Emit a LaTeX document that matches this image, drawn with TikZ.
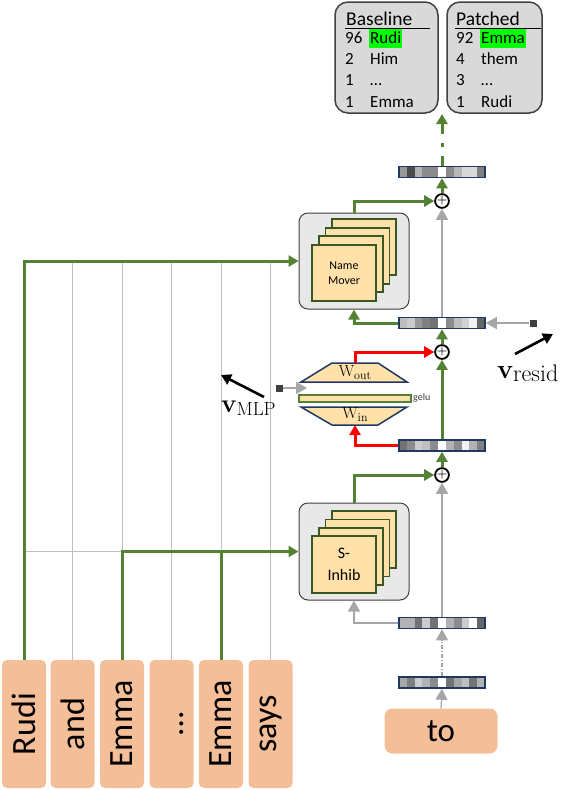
\documentclass[tikz,border=0pt]{standalone}
\usepackage{fontspec}
\setmainfont{Latin Modern Roman}
\newfontfamily\calib{Carlito}
\usetikzlibrary{arrows.meta}
\definecolor{grn}{HTML}{548235}
\definecolor{cardborder}{HTML}{385723}
\definecolor{cardfill}{HTML}{FFE1A9}
\definecolor{peach}{HTML}{F4BE98}
\definecolor{boxgray}{HTML}{E8E8E8}
\definecolor{resgray}{HTML}{D9D9D9}
\definecolor{navy}{HTML}{1F3864}
\definecolor{gridgray}{HTML}{BFBFBF}
\definecolor{arrgray}{HTML}{A6A6A6}
\definecolor{edgegray}{HTML}{404040}
\definecolor{hl}{HTML}{00FF00}
\tikzset{
  tok/.style={fill=peach, rounded corners=5pt, rotate=90, minimum width=128pt, minimum height=44pt, inner sep=0pt, font=\calib\fontsize{34}{34}\selectfont},
  tobox/.style={fill=peach, rounded corners=8pt, minimum width=113pt, minimum height=45pt, inner sep=0pt, font=\calib\fontsize{33}{33}\selectfont},
  attbox/.style={draw=edgegray, line width=1pt, fill=boxgray, rounded corners=9pt, minimum width=110pt, minimum height=96pt, inner sep=0pt},
  card/.style={draw=cardborder, line width=1.8pt, fill=cardfill, minimum width=64pt, minimum height=56pt, inner sep=0pt, align=center},
  resbox/.style={draw=edgegray, line width=1.5pt, fill=resgray, rounded corners=13pt, minimum height=111pt, inner sep=0pt},
  bar/.style={draw=navy, line width=1.5pt, minimum width=86pt, minimum height=11pt, inner sep=0pt},
  plus/.style={circle, draw=black, line width=1.8pt, fill=white, minimum size=13pt, inner sep=0pt, font=\bfseries\fontsize{12}{12}\selectfont},
  grnline/.style={draw=grn, line width=3pt, -{Triangle[length=10pt,width=11pt]}},
  redline/.style={draw=red, line width=3pt, -{Triangle[length=10pt,width=11pt]}},
  grayarr/.style={draw=arrgray, line width=1.2pt, -{Triangle[length=11pt,width=12pt]}},
  gridline/.style={draw=gridgray, line width=1pt},
  blkarr/.style={draw=black, line width=2.6pt, -{Triangle[length=10pt,width=11pt]}},
  restxt/.style={anchor=base west, inner sep=0pt, font=\calib\fontsize{17}{17}\selectfont},
  reshead/.style={anchor=base west, inner sep=0pt, font=\calib\fontsize{19.5}{19.5}\selectfont},
  hlbox/.style={anchor=base west, fill=hl, inner xsep=1pt, inner ysep=1pt, text height=13pt, text depth=4pt, font=\calib\fontsize{17}{17}\selectfont},
  mlpshape/.style={draw=navy, line width=1.5pt, fill=cardfill},
  sq/.style={fill=edgegray, minimum size=7pt, inner sep=0pt}
}
\begin{document}
\begin{tikzpicture}[x=1pt,y=-1pt]
\useasboundingbox (0,0) rectangle (566,790);

% ---------- result boxes ----------
\node[resbox, minimum width=103pt] (base) at (386.5,57.5) {};
\node[resbox, minimum width=95pt] (patch) at (494.5,57.5) {};
\node[reshead] (bh) at (346,25) {Baseline};
\draw[line width=1pt] (345,28) -- (430,28);
\node[restxt] (b1n) at (345,43) {96};
\node[hlbox] (b1w) at (369,43) {Rudi};
\node[restxt] (b2n) at (345,64.5) {2};
\node[restxt] (b2w) at (370,64.5) {Him};
\node[restxt] (b3n) at (345,85.5) {1};
\node[restxt] (b3w) at (370,85.5) {…};
\node[restxt] (b4n) at (345,107) {1};
\node[restxt] (b4w) at (370,107) {Emma};
\node[reshead] (ph) at (456,25) {Patched};
\draw[line width=1pt] (455,28) -- (541,28);
\node[restxt] (p1n) at (456,43) {92};
\node[hlbox] (p1w) at (480,43) {Emma};
\node[restxt] (p2n) at (456,64.5) {4};
\node[restxt] (p2w) at (481,64.5) {them};
\node[restxt] (p3n) at (456,85.5) {3};
\node[restxt] (p3w) at (481,85.5) {…};
\node[restxt] (p4n) at (456,107) {1};
\node[restxt] (p4w) at (481,107) {Rudi};
\coordinate (res) at (442,114);

% ---------- tokens ----------
\node[tok] (tRudi) at (24,724) {Rudi};
\node[tok] (tAnd) at (72.5,724) {and};
\node[tok] (tEmma) at (122,724) {Emma};
\node[tok, text height=24pt, text depth=0pt] (tDots) at (171.5,724) {…};
\node[tok] (tEmmaB) at (221,724) {Emma};
\node[tok] (tSays) at (270.5,724) {says};
\node[tobox] (to) at (441,731) {to};

% ---------- attention boxes ----------
\node[attbox] (nm) at (354,261) {};
\foreach \i in {3,2,1} \node[card] (nmc\i) at ({344+6.7*\i},{273-8.7*\i}) {};
\node[card, font=\calib\fontsize{12}{15}\selectfont] (nmc) at (344,273) {Name\\Mover};

\node[attbox, minimum height=97pt] (si) at (354,551.5) {};
\foreach \i in {3,2,1} \node[card, minimum height=57pt] (sic\i) at ({344+6.7*\i},{564.5-8.3*\i}) {};
\node[card, minimum height=57pt, font=\calib\fontsize{16}{22}\selectfont] (sic) at (344,564.5) {S-\\Inhib};

% ---------- residual vectors ----------
\foreach \g [count=\i from 0] in {60,30,70,55,55,100,55,72,85,85,50}
  \fill[white!\g!black] ({399+\i*7.818},166.5) rectangle ++(7.818,11);
\node[bar] (b5) at (442,172) {};
\foreach \g [count=\i from 0] in {75,80,60,50,45,100,55,75,82,95,40}
  \fill[white!\g!black] ({399+\i*7.818},317.5) rectangle ++(7.818,11);
\node[bar] (b4) at (442,323) {};
\foreach \g [count=\i from 0] in {45,55,80,75,55,100,70,55,95,70,50}
  \fill[white!\g!black] ({399+\i*7.818},440) rectangle ++(7.818,11);
\node[bar] (b3) at (442,445.5) {};
\foreach \g [count=\i from 0] in {70,70,45,80,45,100,70,55,80,100,40}
  \fill[white!\g!black] ({399+\i*7.818},617.5) rectangle ++(7.818,11);
\node[bar] (b2) at (442,623) {};
\foreach \g [count=\i from 0] in {65,50,80,70,55,100,45,65,75,45,70}
  \fill[white!\g!black] ({399+\i*7.818},677) rectangle ++(7.818,11);
\node[bar] (b1) at (442,682.5) {};

% ---------- plus nodes ----------
\node[plus] (p3) at (442,201) {+};
\node[plus] (p2) at (442,352) {+};
\node[plus] (p1) at (442,475) {+};

% ---------- MLP ----------
\draw[mlpshape] (301,382) -- (332,363) -- (378,363) -- (407,382) -- cycle;
\draw[mlpshape] (301,407) -- (407,407) -- (378,425) -- (332,425) -- cycle;
\node[draw=grn, line width=1.5pt, fill=cardfill, minimum width=112pt, minimum height=7pt, inner sep=0pt] (gelu) at (355,398.5) {};
\node[anchor=west, inner sep=0pt, font=\calib\fontsize{10}{10}\selectfont, text=edgegray] (gelut) at (413,398) {gelu};
\node[inner sep=0pt] (wout) at (355,372.5) {\fontsize{16}{16}\selectfont W\raisebox{-3pt}{\fontsize{12}{12}\selectfont out}};
\node[inner sep=0pt] (win) at (355,415) {\fontsize{16}{16}\selectfont W\raisebox{-3pt}{\fontsize{12}{12}\selectfont in}};
\coordinate (woutt) at (355,363);
\coordinate (winb) at (355,425);

% ---------- grid lines ----------
\draw[gridline] (tAnd.east) -- (tAnd.east |- nm.west);
\draw[gridline] (tDots.east) -- (tDots.east |- nm.west);
\draw[gridline] (tSays.east) -- (tSays.east |- nm.west);
\draw[gridline] (tEmma.east |- si.west) -- (tEmma.east |- nm.west);
\draw[gridline] (tEmmaB.east |- si.west) -- (tEmmaB.east |- nm.west);
\draw[gridline] (tRudi.east |- si.west) -- (si.west);
\draw[gridline] (tRudi.east |- nm.west) -- (nm.west);

% ---------- green connectors from tokens ----------
\draw[grnline] (tRudi.east) |- (nm.west);
\draw[grnline] (tEmma.east) |- (si.west);
\draw[draw=grn, line width=3pt] (tEmmaB.east) -- (tEmmaB.east |- si.west);

% ---------- stream connectors ----------
\draw[grayarr] (to.north) -- (b1.south);
\draw[grayarr, dash pattern=on 4pt off 2pt on 1pt off 2pt] (b1.north) -- (b2.south);
\draw[grayarr] (b2.north) -- (p1.south);
\draw[grayarr] (b2.west) -| (si.south);
\draw[grnline] (si.north) |- (p1.west);
\draw[grnline] (p1.north) -- (b3.south);
\draw[redline] (b3.west) -| (winb);
\draw[grnline] (b3.north) -- (p2.south);
\draw[redline] (woutt) |- (p2.west);
\draw[grnline] (p2.north) -- (b4.south);
\draw[grnline] (b4.west) -| (nm.south);
\draw[grayarr] (b4.north) -- (p3.south);
\draw[grnline] (nm.north) |- (p3.west);
\draw[grnline] (p3.north) -- (b5.south);
\draw[grnline, dash pattern=on 10pt off 9pt on 4pt off 9pt on 30pt off 0pt] (b5.north) -- (res);

% ---------- patching inputs ----------
\node[sq] (sqr) at (533,323) {};
\draw[grayarr] (sqr.west) -- (b4.east);
\node[sq] (sqm) at (279,388) {};
\coordinate (mlpin) at (307,388);
\draw[grayarr] (sqm.east) -- (mlpin);

% ---------- vector labels ----------
\coordinate (vr1) at (515,354);
\coordinate (vr2) at (553,334);
\draw[blkarr] (vr1) -- (vr2);
\node[anchor=base west, inner sep=0pt] (vresid) at (497,378) {{\bfseries\fontsize{27}{27}\selectfont v}\raisebox{-3pt}{\fontsize{24}{24}\selectfont resid}};
\coordinate (vm1) at (264,397);
\coordinate (vm2) at (221,375);
\draw[blkarr] (vm1) -- (vm2);
\node[anchor=base west, inner sep=0pt] (vmlp) at (221,412) {{\bfseries\fontsize{26}{26}\selectfont v}\raisebox{-3pt}{\fontsize{19}{19}\selectfont MLP}};
\end{tikzpicture}
\end{document}
